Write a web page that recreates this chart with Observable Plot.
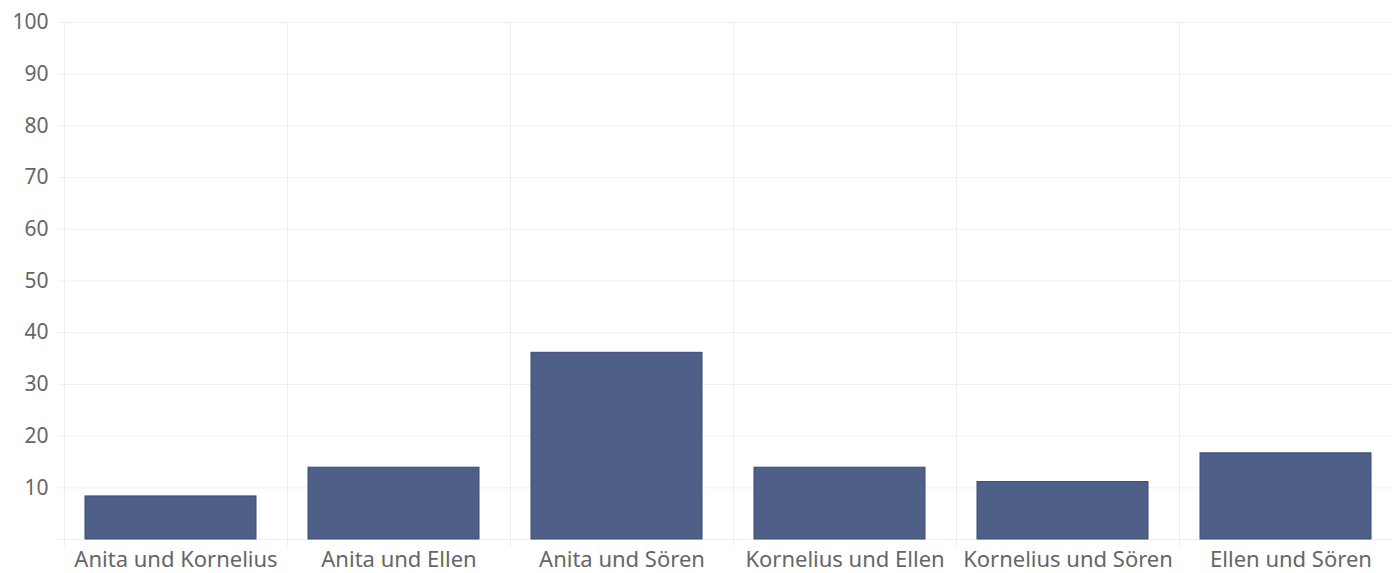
<!DOCTYPE html>
<html>
<head>
<meta charset="utf-8">
<script src="https://cdn.jsdelivr.net/npm/d3@7"></script>
<script src="https://cdn.jsdelivr.net/npm/@observablehq/plot@0.6"></script>
<style>
  html, body { margin: 0; padding: 0; background: #fff; }
  #chart svg { display: block; }
</style>
</head>
<body>
<div id="chart"></div>
<script>
const categories = ["Anita und Kornelius", "Anita und Ellen", "Anita und Sören", "Kornelius und Ellen", "Kornelius und Sören", "Ellen und Sören"];
const values = [8.33, 13.89, 36.11, 13.89, 11.11, 16.67];
const yTicks = [0, 10, 20, 30, 40, 50, 60, 70, 80, 90, 100];

const data = categories.map((c, i) => ({category: c, value: values[i]}));

const W = 1392, H = 573;
const xRange = [64, 1402];
const step = (xRange[1] - xRange[0]) / categories.length;
const grid = "#eeeeee";

const chart = Plot.plot({
  width: W,
  height: H,
  marginLeft: 64,
  marginRight: 0,
  marginTop: 22,
  marginBottom: 34,
  style: {fontFamily: "'Noto Sans', sans-serif", fontSize: "20px", color: "#666", background: "#fff"},
  x: {domain: categories, range: xRange, paddingInner: 0.233, paddingOuter: 0.1165, label: null},
  y: {domain: [0, 100], label: null},
  marks: [
    Plot.ruleY(yTicks, {y: d => d, stroke: grid, strokeWidth: 1}),
    Plot.ruleX(categories, {x: d => d, dx: -step / 2, stroke: grid, strokeWidth: 1, insetBottom: -7}),
    Plot.axisY({ticks: yTicks, tickSize: 6, tickPadding: 10, stroke: grid, tickFormat: d => d === 0 ? "" : d, fill: "#666", fontSize: 21, label: null}),
    Plot.axisX({tickSize: 0, tickPadding: 12, fill: "#666", fontSize: 22, label: null}),
    Plot.barY(data, {x: "category", y: "value", dx: -5, fill: "#4e6088", stroke: "#3c4b76", strokeWidth: 1})
  ]
});
document.getElementById("chart").appendChild(chart);
</script>
</body>
</html>
